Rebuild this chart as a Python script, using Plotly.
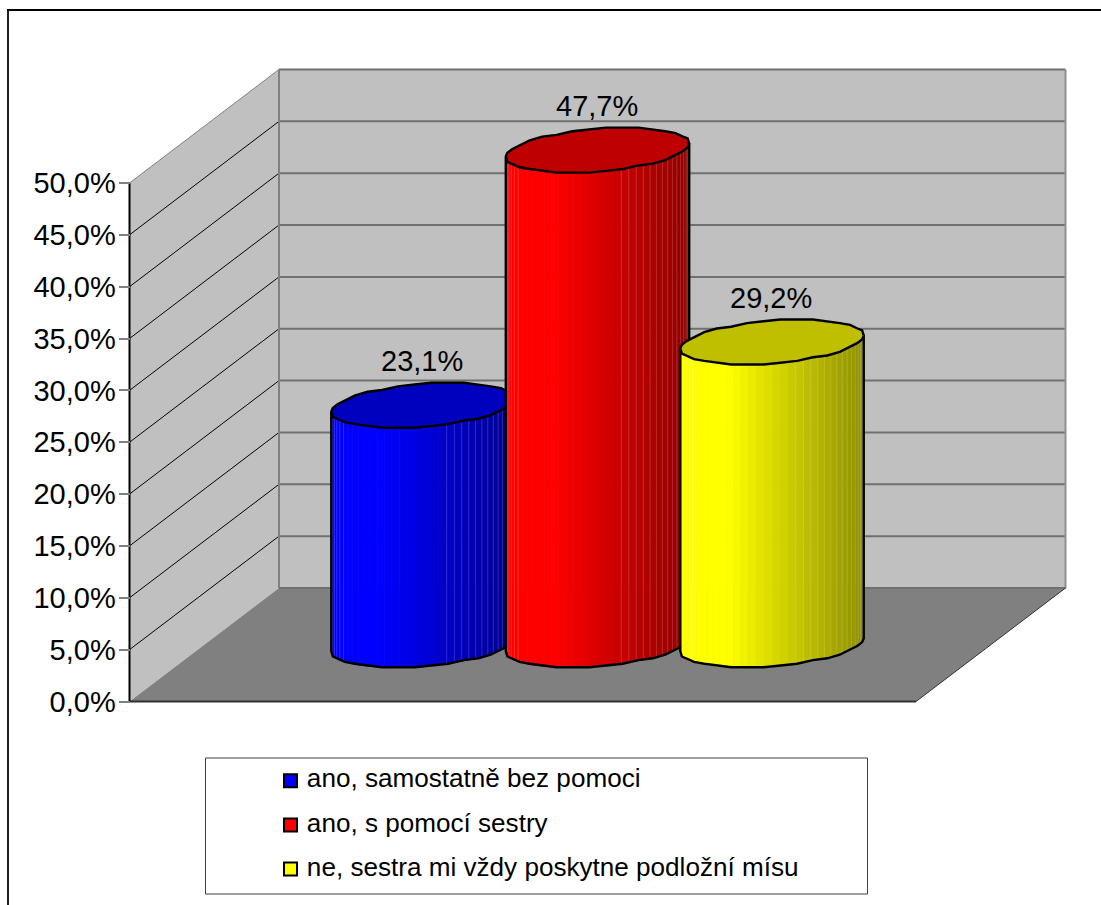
import math
import plotly.graph_objects as go

# Chart data
series_names = ["ano, samostatně bez pomoci", "ano, s pomocí sestry", "ne, sestra mi vždy poskytne podložní mísu"]
series_values = [23.1, 47.7, 29.2]
series_rgb = [(0, 0, 255), (255, 0, 0), (255, 255, 0)]
tick_values = [0, 5, 10, 15, 20, 25, 30, 35, 40, 45, 50]
tick_labels = ["0,0%", "5,0%", "10,0%", "15,0%", "20,0%", "25,0%", "30,0%", "35,0%", "40,0%", "45,0%", "50,0%"]

W, H = 1101, 905
FONT = "Liberation Sans"

# Plot frame: floor width maps to 0..1 on x, percent on y
PX_LEFT, PX_RIGHT = 129.5, 916.0
PX_ZERO, PX_MAX = 701.5, 183.0
PX_PER_X = PX_RIGHT - PX_LEFT
PX_PER_PCT = (PX_ZERO - PX_MAX) / 50.0
x_range = [-PX_LEFT / PX_PER_X, (W - PX_LEFT) / PX_PER_X]
y_range = [(PX_ZERO - H) / PX_PER_PCT, PX_ZERO / PX_PER_PCT]

# Oblique depth vector in axis units
DEPTH_X = 149.5 / PX_PER_X
DEPTH_Y = 113.5 / PX_PER_PCT
Y_MAX = tick_values[-1]

# Cylinder geometry in axis units
SLOT = 0.2219
RADIUS_X = 87.0 / PX_PER_X
SHEAR_X = 29.0 / PX_PER_X
SHEAR_Y = 22.5 / PX_PER_PCT
FACETS = 36
RING_SEGMENTS = 34
SNAP_Y = 1.8 / PX_PER_PCT  # outline vertices sit on a coarse vertical grid


def poly(fig, xs, ys, fill, line=None, width=0):
    fig.add_trace(go.Scatter(
        x=xs, y=ys, mode="lines", fill="toself", fillcolor=fill,
        line=dict(color=line or fill, width=width), hoverinfo="skip", showlegend=False,
    ))


def stroke(fig, xs, ys, color, width):
    fig.add_trace(go.Scatter(
        x=xs, y=ys, mode="lines", line=dict(color=color, width=width),
        hoverinfo="skip", showlegend=False,
    ))


def rim(cx, base, t, snap=False):
    dy = DEPTH_Y / 2 + SHEAR_Y * math.sin(t)
    if snap:
        dy = round(dy / SNAP_Y) * SNAP_Y
    return (cx + DEPTH_X / 2 + RADIUS_X * math.cos(t) + SHEAR_X * math.sin(t), base + dy)


def shade(rgb, u):
    k = 1.0 if u < 0.26 else 1.0 - 0.44 * (u - 0.26) / 0.74
    return "rgb(%d,%d,%d)" % tuple(round(c * k) for c in rgb)


fig = go.Figure()

# Walls and floor
poly(fig, [0, DEPTH_X, DEPTH_X, 0], [0, DEPTH_Y, Y_MAX + DEPTH_Y, Y_MAX], "#c0c0c0")
poly(fig, [DEPTH_X, 1 + DEPTH_X, 1 + DEPTH_X, DEPTH_X],
     [DEPTH_Y, DEPTH_Y, Y_MAX + DEPTH_Y, Y_MAX + DEPTH_Y], "#c0c0c0")
poly(fig, [0, 1, 1 + DEPTH_X, DEPTH_X], [0, 0, DEPTH_Y, DEPTH_Y], "#808080")

# Gridlines across both walls
for v in tick_values[1:]:
    side = "#808080" if v == Y_MAX else "#000000"
    stroke(fig, [0, DEPTH_X], [v, v + DEPTH_Y], side, 1)
    stroke(fig, [DEPTH_X, 1 + DEPTH_X], [v + DEPTH_Y, v + DEPTH_Y], "#707070", 2)
stroke(fig, [DEPTH_X, DEPTH_X], [DEPTH_Y, Y_MAX + DEPTH_Y], "#808080", 2)
stroke(fig, [1 + DEPTH_X, 1 + DEPTH_X], [DEPTH_Y, Y_MAX + DEPTH_Y], "#909090", 2)
stroke(fig, [DEPTH_X, 1 + DEPTH_X], [DEPTH_Y, DEPTH_Y], "#707070", 2)
stroke(fig, [1, 1 + DEPTH_X], [0, DEPTH_Y], "#303030", 1)
stroke(fig, [0, 1], [0, 0], "#303030", 2)
stroke(fig, [0, 0], [0, Y_MAX], "#000000", 2)

# Cylinders, drawn left to right so each one overlaps the previous
t_right = math.atan2(SHEAR_X, RADIUS_X)
half = math.hypot(RADIUS_X, SHEAR_X)
for i, (value, rgb) in enumerate(zip(series_values, series_rgb)):
    cx = 0.5 + (i - 1) * SLOT
    angles = [t_right + math.pi + math.pi * k / FACETS for k in range(FACETS + 1)]
    left = cx + DEPTH_X / 2 - half
    # Side facets, with a hairline of their own colour to close the seams
    for a, b in zip(angles, angles[1:]):
        xa, ya = rim(cx, 0, a)
        xb, yb = rim(cx, 0, b)
        u = ((xa + xb) / 2 - left) / (2 * half)
        poly(fig, [xa, xb, xb, xa], [ya, yb, yb + value, ya + value], shade(rgb, u), width=1)
    # Pale seams near both silhouette edges
    for a in angles[1:-1]:
        xa, ya = rim(cx, 0, a)
        u = (xa - left) / (2 * half)
        if u < 0.09 or u > 0.62:
            stroke(fig, [xa, xa], [ya, ya + value], "rgba(255,255,255,0.16)", 1)
    # Outline of the wall and base
    steps = [t_right + math.pi + math.pi * k / (RING_SEGMENTS // 2) for k in range(RING_SEGMENTS // 2 + 1)]
    base = [rim(cx, 0, a, snap=True) for a in steps]
    stroke(fig,
           [base[0][0]] + [p[0] for p in base] + [base[-1][0]],
           [rim(cx, value, steps[0])[1]] + [p[1] for p in base] + [rim(cx, value, steps[-1])[1]],
           "#000000", 2.4)
    # Top face
    ring = [rim(cx, value, t_right + 2 * math.pi * k / RING_SEGMENTS, snap=True) for k in range(RING_SEGMENTS + 1)]
    poly(fig, [p[0] for p in ring], [p[1] for p in ring],
         "rgb(%d,%d,%d)" % tuple(round(c * 0.75) for c in rgb), "#000000", 2.4)

# Value labels above each cylinder
for i, value in enumerate(series_values):
    fig.add_annotation(
        x=0.5 + (i - 1) * SLOT + DEPTH_X / 2 - 1 / PX_PER_X, y=value + DEPTH_Y / 2,
        yshift=44, text=f"{value:.1f}%".replace(".", ","), showarrow=False,
        font=dict(family=FONT, size=29, color="#000000"),
    )

# Legend entries
LEGEND_MARK_X = (290.5 - PX_LEFT) / PX_PER_X
LEGEND_ROWS = [(PX_ZERO - py) / PX_PER_PCT for py in (780.7, 825.0, 869.0)]
for name, rgb, row in zip(series_names, series_rgb, LEGEND_ROWS):
    fig.add_trace(go.Scatter(
        x=[LEGEND_MARK_X], y=[row], mode="markers+text", text=[" " + name],
        textposition="middle right",
        textfont=dict(family=FONT, size=26.1, color="#000000"),
        marker=dict(symbol="square", size=13, color="rgb(%d,%d,%d)" % rgb,
                    line=dict(color="#000000", width=2)),
        hoverinfo="skip", showlegend=False,
    ))

fig.update_layout(
    width=W, height=H, margin=dict(l=0, r=0, t=0, b=0),
    paper_bgcolor="#ffffff", plot_bgcolor="#ffffff", showlegend=False,
    xaxis=dict(range=x_range, visible=False, fixedrange=True),
    yaxis=dict(
        range=y_range, anchor="free", position=PX_LEFT / W, side="left",
        tickmode="array", tickvals=tick_values, ticktext=tick_labels,
        ticks="outside", ticklen=11, tickwidth=2, tickcolor="#808080",
        ticklabelstandoff=-3,
        tickfont=dict(family=FONT, size=29, color="#000000"),
        showgrid=False, zeroline=False, showline=False, fixedrange=True,
    ),
    shapes=[
        # Chart frame: left and top edges only
        dict(type="line", xref="paper", yref="paper", x0=8 / W, x1=8 / W,
             y0=0, y1=1 - 10 / H, line=dict(color="#202020", width=2)),
        dict(type="line", xref="paper", yref="paper", x0=7 / W, x1=1,
             y0=1 - 10 / H, y1=1 - 10 / H, line=dict(color="#000000", width=2)),
        # Legend box
        dict(type="rect", xref="paper", yref="paper", x0=205.5 / W, x1=867.5 / W,
             y0=1 - 894 / H, y1=1 - 758 / H, line=dict(color="#404040", width=1)),
    ],
)

fig.write_html("out.html")
